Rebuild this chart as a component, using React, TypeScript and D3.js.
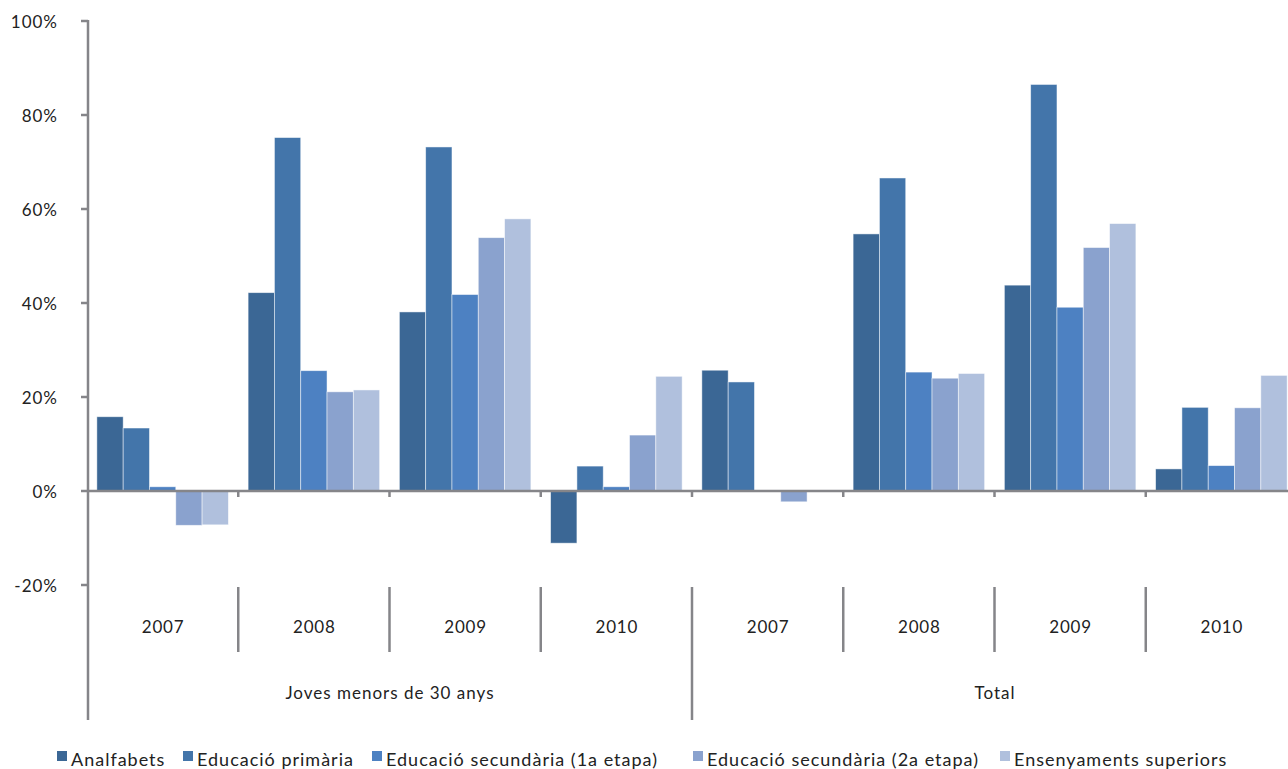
import React from "react";
import * as d3 from "d3";

const groups = ["Joves menors de 30 anys", "Total"];
const years = ["2007", "2008", "2009", "2010"];
const seriesNames = [
  "Analfabets",
  "Educació primària",
  "Educació secundària (1a etapa)",
  "Educació secundària (2a etapa)",
  "Ensenyaments superiors",
];
const colors = ["#3B6795", "#4375AA", "#4D81C2", "#8AA2CE", "#B0C0DD"];

// values per category (group-year), in the order of seriesNames (percent)
const analfabets = [15.8, 42.2, 38.1, -11.1, 25.7, 54.7, 43.8, 4.7];
const primaria = [13.4, 75.2, 73.2, 5.3, 23.2, 66.6, 86.5, 17.8];
const secundaria1 = [0.9, 25.6, 41.8, 0.9, 0.1, 25.3, 39.1, 5.4];
const secundaria2 = [-7.3, 21.1, 53.9, 11.9, -2.3, 24.0, 51.8, 17.7];
const superiors = [-7.2, 21.5, 57.9, 24.4, 0, 25.0, 56.9, 24.6];
const seriesValues = [analfabets, primaria, secundaria1, secundaria2, superiors];

const yTicks = [-20, 0, 20, 40, 60, 80, 100];

const W = 1288;
const H = 769;
const left = 87;
const right = 1297;
const top = 21;
const zeroY = 491;
const FONT = "Lato, 'Open Sans', sans-serif";
const AXIS = "#858589";

export default function App() {
  const categories = groups.flatMap((g) => years.map((y) => `${g}|${y}`));
  const x = d3.scaleBand<string>().domain(categories).range([left, right]).padding(0);
  const xs = d3
    .scaleBand<string>()
    .domain(seriesNames)
    .range([0, x.bandwidth()])
    .paddingInner(0)
    .paddingOuter(0.375);
  const y = d3.scaleLinear().domain([0, 100]).range([zeroY, top]);
  const y20 = y(-20);

  const step = x.step();
  const catLineTop = y20 + 2;
  const catLineBottom = 652;
  const groupLineBottom = 720;

  const legendX = [57, 183, 372, 693, 1000];

  return (
    <svg
      width={W}
      height={H}
      style={{ position: "absolute", left: 0, top: 0, background: "#fff" }}
      fontFamily={FONT}
    >
      {categories.map((c, ci) => (
        <g key={c}>
          {seriesNames.map((s, si) => {
            const v = seriesValues[si][ci];
            const bx = (x(c) as number) + (xs(s) as number);
            const y0 = y(Math.max(0, v));
            const h = Math.abs(y(v) - y(0));
            return (
              <rect
                key={s}
                x={bx}
                y={y0}
                width={xs.bandwidth()}
                height={h}
                fill={colors[si]}
                stroke="#ffffff"
                strokeOpacity={0.6}
                strokeWidth={0.8}
              />
            );
          })}
        </g>
      ))}

      <line x1={left} x2={W} y1={zeroY} y2={zeroY} stroke={AXIS} strokeWidth={2.5} />
      {categories.map((c, i) =>
        i === 0 ? null : (
          <line
            key={"zt" + c}
            x1={x(c) as number}
            x2={x(c) as number}
            y1={zeroY}
            y2={zeroY + 6}
            stroke={AXIS}
            strokeWidth={2.5}
          />
        )
      )}

      <line x1={left + 1} x2={left + 1} y1={top - 1} y2={groupLineBottom} stroke={AXIS} strokeWidth={2.5} />
      {yTicks.map((t) => (
        <g key={t}>
          <line x1={left - 6} x2={left + 1} y1={y(t)} y2={y(t)} stroke={AXIS} strokeWidth={2.5} />
          <text
            x={58}
            y={y(t)}
            textAnchor="end"
            dominantBaseline="central"
            fontSize={17}
            letterSpacing={1}
            fill="#222"
          >
            {t + "%"}
          </text>
        </g>
      ))}

      {categories.map((c, i) => {
        if (i === 0) return null;
        const xx = x(c) as number;
        const isGroup = i % years.length === 0;
        return (
          <line
            key={"cd" + c}
            x1={xx}
            x2={xx}
            y1={catLineTop}
            y2={isGroup ? groupLineBottom : catLineBottom}
            stroke={AXIS}
            strokeWidth={2.5}
          />
        );
      })}

      {categories.map((c) => (
        <text
          key={"yl" + c}
          x={(x(c) as number) + step / 2 + 0.5}
          y={626}
          textAnchor="middle"
          dominantBaseline="central"
          fontSize={17}
          letterSpacing={0.8}
          fill="#222"
        >
          {c.split("|")[1]}
        </text>
      ))}

      {groups.map((g) => {
        const x0 = x(`${g}|${years[0]}`) as number;
        const cx = x0 + (step * years.length) / 2 + 0.5;
        return (
          <text
            key={g}
            x={cx}
            y={692}
            textAnchor="middle"
            dominantBaseline="central"
            fontSize={17}
            letterSpacing={1}
            fill="#222"
          >
            {g}
          </text>
        );
      })}

      {seriesNames.map((s, i) => (
        <g key={"lg" + s} transform={`translate(${legendX[i]},0)`}>
          <rect x={0} y={751} width={10} height={10} fill={colors[i]} />
          <text x={14} y={759} dominantBaseline="central" fontSize={18} letterSpacing={1} fill="#222">
            {s}
          </text>
        </g>
      ))}
    </svg>
  );
}
